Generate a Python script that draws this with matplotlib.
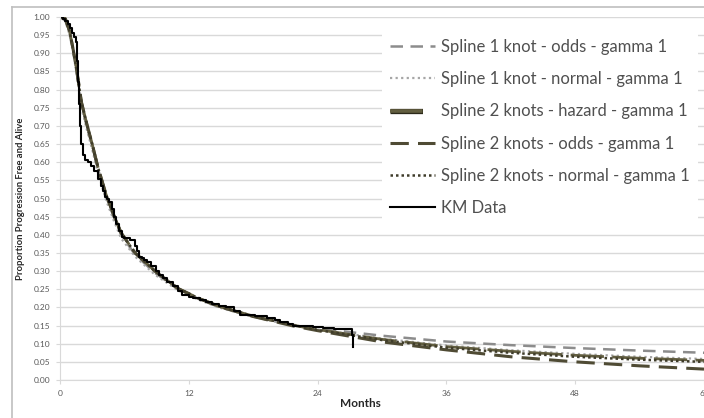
import matplotlib.pyplot as plt
import matplotlib.patheffects as pe
from matplotlib.lines import Line2D

# KM data (step function)
km_t = [0, 0.3, 0.5, 0.7, 0.9, 1.1, 1.3, 1.45, 1.55, 1.65, 1.75, 1.85, 1.95, 2.1, 2.3, 2.6,
        2.9, 3.2, 3.5, 3.8, 4.0, 4.2, 4.4, 4.6, 4.8, 5.0, 5.2, 5.5, 5.8, 6.0, 6.5, 7.0,
        7.2, 7.4, 7.6, 7.8, 8.1, 8.5, 8.9, 9.2, 9.6, 10.0, 10.5, 11.0, 11.4, 12.0, 12.4,
        13.0, 13.6, 14.2, 14.8, 15.5, 16.2, 16.8, 17.5, 18.2, 19.3, 20.0, 20.5, 21.2,
        21.7, 22.5, 23.6, 24.5, 25.5, 26.4, 27.2, 27.3]
km_s = [1.0, 0.995, 0.99, 0.98, 0.97, 0.955, 0.945, 0.93, 0.88, 0.82, 0.76, 0.70, 0.65,
        0.62, 0.607, 0.60, 0.59, 0.575, 0.555, 0.535, 0.52, 0.505, 0.50, 0.49, 0.47,
        0.45, 0.43, 0.41, 0.395, 0.39, 0.385, 0.37, 0.355, 0.34, 0.335, 0.33, 0.325,
        0.315, 0.30, 0.29, 0.28, 0.27, 0.26, 0.245, 0.235, 0.23, 0.225, 0.22, 0.215,
        0.21, 0.205, 0.20, 0.19, 0.18, 0.178, 0.175, 0.17, 0.165, 0.16, 0.155, 0.15,
        0.148, 0.145, 0.143, 0.14, 0.14, 0.125, 0.09]

# model curves
months = [0, 0.5, 0.9, 1.2, 1.55, 2.0, 2.5, 3.0, 3.5, 4.3, 5.0, 5.7, 7.0, 8.85, 11.0,
          13.0, 14.9, 18.0, 21.7, 24.0, 30.0, 36.0, 42.0, 48.0, 54.0, 60.0]
s1_odds = [1.0, 0.99, 0.955, 0.91, 0.85, 0.76, 0.70, 0.645, 0.585, 0.505, 0.45, 0.40,
           0.345, 0.295, 0.25, 0.222, 0.20, 0.175, 0.152, 0.142, 0.122, 0.106, 0.096,
           0.088, 0.081, 0.075]
s1_normal = [1.0, 0.99, 0.95, 0.905, 0.845, 0.75, 0.69, 0.635, 0.575, 0.495, 0.44, 0.39,
             0.34, 0.29, 0.247, 0.22, 0.199, 0.174, 0.15, 0.139, 0.114, 0.095, 0.082,
             0.072, 0.064, 0.058]
s2_hazard = [1.0, 0.995, 0.96, 0.915, 0.855, 0.765, 0.705, 0.65, 0.59, 0.51, 0.455, 0.405,
             0.35, 0.30, 0.252, 0.224, 0.202, 0.176, 0.151, 0.139, 0.112, 0.092, 0.079,
             0.068, 0.06, 0.054]
s2_odds = [1.0, 0.995, 0.96, 0.915, 0.855, 0.765, 0.705, 0.65, 0.59, 0.51, 0.455, 0.405,
           0.35, 0.30, 0.252, 0.224, 0.202, 0.175, 0.149, 0.136, 0.105, 0.083, 0.064,
           0.05, 0.039, 0.03]
s2_normal = [1.0, 0.995, 0.96, 0.915, 0.855, 0.765, 0.705, 0.65, 0.59, 0.51, 0.455, 0.405,
             0.35, 0.30, 0.252, 0.224, 0.202, 0.176, 0.151, 0.138, 0.11, 0.089, 0.075,
             0.064, 0.056, 0.05]

fig = plt.figure(figsize=(7.04, 4.18), dpi=100)
plt.rcParams['font.family'] = ['Lato', 'DejaVu Sans']
ax = fig.add_axes([60/704, 38/418, 644/704, 363/418])

ax.plot(months, s1_odds, color='#8c8c8c', lw=1.8, ls=(0, (5, 3)),
        label='Spline 1 knot - odds - gamma 1')
ax.plot(months, s1_normal, color='#a6a6a6', lw=1.6, ls=(0, (1, 1.5)),
        label='Spline 1 knot - normal - gamma 1')
ax.plot(months, s2_hazard, color='#625e40', lw=2.0, ls=(0, (12, 3)),
        label='Spline 2 knots - hazard - gamma 1')
ax.plot(months, s2_odds, color='#4f4b34', lw=2.2, ls=(0, (6, 3)),
        label='Spline 2 knots - odds - gamma 1')
ax.plot(months, s2_normal, color='#3f3c2a', lw=1.8, ls=(0, (1, 1.2)),
        label='Spline 2 knots - normal - gamma 1')
ax.plot(km_t, km_s, color='black', lw=1.5, drawstyle='steps-post', label='KM Data')

ax.set_xlim(0, 60)
ax.set_ylim(0, 1.0)
ax.set_xticks([0, 12, 24, 36, 48, 60])
ax.set_yticks([i * 0.05 for i in range(21)])
ax.set_yticklabels(['%.2f' % (i * 0.05) for i in range(21)])
ax.tick_params(labelsize=6, labelcolor='#595959', color='#d9d9d9', length=3, pad=4)
ax.yaxis.grid(True, color='#d9d9d9', lw=1)
ax.set_axisbelow(True)
for sp in ['top', 'right']:
    ax.spines[sp].set_visible(False)
for sp in ['left', 'bottom']:
    ax.spines[sp].set_color('#d9d9d9')

ax.set_xlabel('Months', fontsize=8.5, fontweight='bold', color='#262626')
ax.xaxis.set_label_coords(300/644, -0.05)
ax.set_ylabel('Proportion Progression Free and Alive', fontsize=6.8, fontweight='bold',
              color='#262626', labelpad=6)

leg = ax.legend(loc='upper left', bbox_to_anchor=(0.5, 0.962), borderaxespad=0,
                borderpad=0.5, frameon=True, facecolor='white', edgecolor='none',
                framealpha=1, fancybox=False, fontsize=12, handlelength=2.7,
                labelspacing=0.97, handletextpad=0.35)
for t in leg.get_texts():
    t.set_color('#505050')
hz = leg.legend_handles[2]
hz.set_linewidth(2.6)
hz.set_linestyle((0, (9, 6)))
hz.set_path_effects([pe.Stroke(linewidth=3.8, foreground='#2b2919'), pe.Normal()])

# outer chart border
fig.add_artist(Line2D([12/704, 12/704], [0, 1 - 7/418], color='#bfbfbf', lw=1.2))
fig.add_artist(Line2D([12/704, 1], [1 - 7/418, 1 - 7/418], color='#bfbfbf', lw=1.2))

fig.savefig('out.png', dpi=100)
